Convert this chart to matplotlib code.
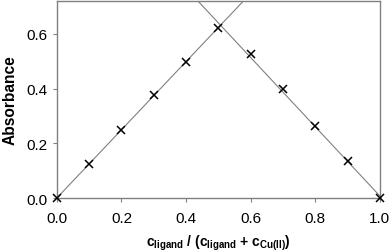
import numpy as np
import matplotlib
matplotlib.use("Agg")
import matplotlib.pyplot as plt

plt.rcParams['font.family'] = ['Liberation Sans', 'DejaVu Sans']
plt.rcParams['mathtext.fontset'] = 'custom'
plt.rcParams['mathtext.rm'] = 'Liberation Sans:bold'
plt.rcParams['mathtext.it'] = 'Liberation Sans:bold'
plt.rcParams['mathtext.bf'] = 'Liberation Sans:bold'
plt.rcParams['mathtext.default'] = 'bf'

# mole fraction of ligand and measured absorbance
x_frac = [0.0, 0.1, 0.2, 0.3, 0.4, 0.5, 0.6, 0.7, 0.8, 0.9, 1.0]
absorb = [0.0, 0.124, 0.249, 0.378, 0.498, 0.622, 0.527, 0.399, 0.262, 0.134, 0.0]
x_ticks = [0.0, 0.2, 0.4, 0.6, 0.8, 1.0]
y_ticks = [0.0, 0.2, 0.4, 0.6]

x = np.array(x_frac)
y = np.array(absorb)

fig = plt.figure(figsize=(3.92, 2.53), dpi=100)
ax = fig.add_axes([0.145, 0.213, 0.824, 0.779])

# linear fits of rising and falling branches
left = np.polyfit(x[:6], y[:6], 1)
right = np.polyfit(x[5:], y[5:], 1)
xl = np.linspace(0, 1, 50)
ax.plot(xl, np.polyval(left, xl), color='#808080', lw=0.8)
ax.plot(xl, np.polyval(right, xl), color='#808080', lw=0.8)

ax.plot(x, y, linestyle='none', marker='x', color='black', ms=6, mew=1.1, clip_on=False, zorder=3)

ax.set_xlim(0, 1.0)
ax.set_ylim(0, 0.72)
ax.set_xticks(x_ticks)
ax.set_yticks(y_ticks)
ax.set_xticklabels(['%.1f' % v for v in x_ticks])
ax.set_yticklabels(['%.1f' % v for v in y_ticks])
for s in ax.spines.values():
    s.set_color('#808080')
    s.set_linewidth(1.0)
ax.tick_params(direction='out', length=3, color='#808080', labelsize=11)
ax.tick_params(axis='x', pad=6)
ax.tick_params(axis='y', pad=4)

ax.set_ylabel('Absorbance', fontsize=11.2, fontweight='bold', labelpad=6)
ax.set_xlabel(r'$c_{ligand}$ / ($c_{ligand}$ + $c_{Cu(II)}$)', fontsize=10,
              fontweight='bold', labelpad=6)

fig.savefig('out.png', dpi=100)
